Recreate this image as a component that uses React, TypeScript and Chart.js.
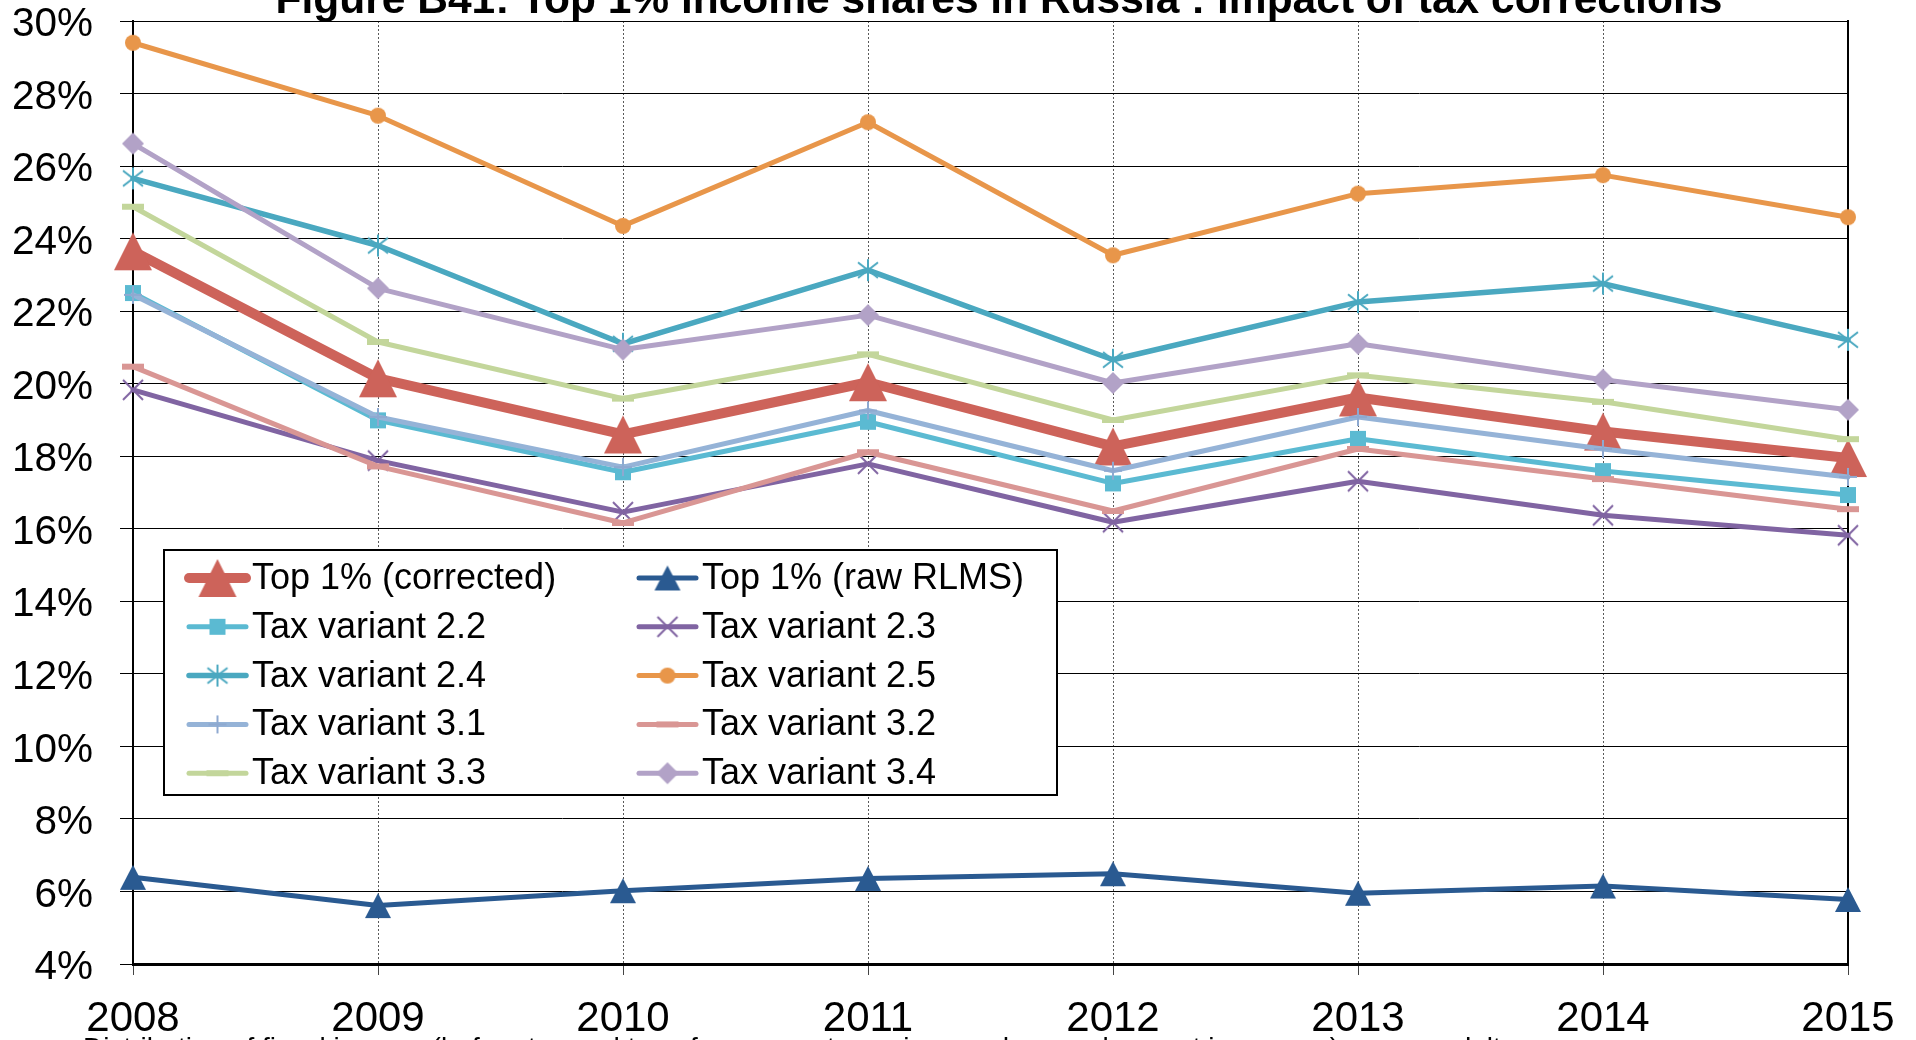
import React, { useEffect, useRef } from "react";
import { Chart, registerables } from "chart.js";

Chart.register(...registerables);

// ---------- data ----------
const years = ["2008", "2009", "2010", "2011", "2012", "2013", "2014", "2015"];
const top1Corrected = [23.65, 20.15, 18.6, 20.04, 18.27, 19.62, 18.68, 17.95];
const top1Raw = [6.39, 5.61, 6.02, 6.36, 6.49, 5.95, 6.15, 5.78];
const tax22 = [22.5, 18.99, 17.56, 18.95, 17.25, 18.48, 17.59, 16.93];
const tax23 = [19.83, 17.88, 16.46, 17.79, 16.18, 17.31, 16.37, 15.82];
const tax24 = [25.66, 23.81, 21.1, 23.13, 20.66, 22.25, 22.76, 21.21];
const tax25 = [29.4, 27.39, 24.35, 27.21, 23.54, 25.24, 25.75, 24.59];
const tax31 = [22.45, 19.08, 17.7, 19.26, 17.6, 19.08, 18.2, 17.43];
const tax32 = [20.47, 17.72, 16.16, 18.11, 16.49, 18.2, 17.37, 16.54];
const tax33 = [24.88, 21.15, 19.59, 20.81, 19.0, 20.23, 19.5, 18.47];
const tax34 = [26.62, 22.63, 20.94, 21.89, 20.02, 21.1, 20.11, 19.28];

const seriesLabels = [
  "Top 1% (corrected)",
  "Top 1% (raw RLMS)",
  "Tax variant 2.2",
  "Tax variant 2.3",
  "Tax variant 2.4",
  "Tax variant 2.5",
  "Tax variant 3.1",
  "Tax variant 3.2",
  "Tax variant 3.3",
  "Tax variant 3.4",
];

const yMin = 4;
const yMax = 30;
const yStep = 2;

const titleText = "Figure B41: Top 1% income shares in Russia : impact of tax corrections";
const noteText =
  "Distribution of fiscal income (before tax and transfers, except pensions and unemployment insurance) among adults";

const FONT = "'Liberation Sans', Arial, Helvetica, sans-serif";

// ---------- marker images ----------
function makeMarker(kind: string, color: string, w: number, h: number, lw = 2) {
  const pad = 2;
  const c = document.createElement("canvas");
  c.width = w + pad * 2;
  c.height = h + pad * 2;
  const ctx = c.getContext("2d")!;
  ctx.translate(pad, pad);
  ctx.fillStyle = color;
  ctx.strokeStyle = color;
  ctx.lineWidth = lw;
  ctx.lineCap = "butt";
  ctx.beginPath();
  switch (kind) {
    case "triangle":
      ctx.moveTo(w / 2, 0);
      ctx.lineTo(w, h);
      ctx.lineTo(0, h);
      ctx.closePath();
      ctx.fill();
      break;
    case "square":
    case "dash":
      ctx.fillRect(0, 0, w, h);
      break;
    case "circle":
      ctx.ellipse(w / 2, h / 2, w / 2, h / 2, 0, 0, Math.PI * 2);
      ctx.fill();
      break;
    case "diamond":
      ctx.moveTo(w / 2, 0);
      ctx.lineTo(w, h / 2);
      ctx.lineTo(w / 2, h);
      ctx.lineTo(0, h / 2);
      ctx.closePath();
      ctx.fill();
      break;
    case "x":
      ctx.moveTo(0, 0);
      ctx.lineTo(w, h);
      ctx.moveTo(w, 0);
      ctx.lineTo(0, h);
      ctx.stroke();
      break;
    case "asterisk":
      ctx.moveTo(0, h * 0.15);
      ctx.lineTo(w, h * 0.85);
      ctx.moveTo(w, h * 0.15);
      ctx.lineTo(0, h * 0.85);
      ctx.moveTo(w / 2, 0);
      ctx.lineTo(w / 2, h);
      ctx.stroke();
      break;
    case "plus":
      ctx.moveTo(w / 2, 0);
      ctx.lineTo(w / 2, h);
      ctx.moveTo(0, h / 2);
      ctx.lineTo(w, h / 2);
      ctx.stroke();
      break;
  }
  return c;
}

export default function App() {
  const ref = useRef<HTMLCanvasElement>(null);

  useEffect(() => {
    const canvas = ref.current;
    if (!canvas) return;

    const values = [top1Corrected, top1Raw, tax22, tax23, tax24, tax25, tax31, tax32, tax33, tax34];
    const colors = [
      "#CD635A",
      "#2A5A91",
      "#5BBAD2",
      "#8064A2",
      "#4AA8C0",
      "#E8964A",
      "#95B3D7",
      "#D99694",
      "#C3D69B",
      "#B2A2C7",
    ];
    const widths = [10, 5, 5, 5, 5.5, 5, 5, 5, 5, 5];
    const markers = [
      makeMarker("triangle", colors[0], 38, 38),
      makeMarker("triangle", colors[1], 26, 25),
      makeMarker("square", colors[2], 16, 16),
      makeMarker("x", colors[3], 20, 20, 2),
      makeMarker("asterisk", colors[4], 20, 22, 2),
      makeMarker("circle", colors[5], 16, 16),
      makeMarker("plus", "#8EA9D0", 18, 18, 2),
      makeMarker("dash", colors[7], 22, 6),
      makeMarker("dash", colors[8], 22, 6),
      makeMarker("diamond", colors[9], 22, 22),
    ];

    const datasets = values.map((data, i) => ({
      label: seriesLabels[i],
      data,
      borderColor: colors[i],
      backgroundColor: colors[i],
      borderWidth: widths[i],
      pointStyle: markers[i] as any,
      pointRadius: 10,
      pointHoverRadius: 10,
      borderJoinStyle: "round" as const,
      borderCapStyle: "round" as const,
      tension: 0,
      fill: false,
      order: values.length - i,
    }));

    const textPlugin = {
      id: "textPlugin",
      afterDraw(chart: any) {
        const ctx = chart.ctx;
        ctx.save();
        ctx.fillStyle = "#000";
        ctx.textAlign = "center";
        ctx.textBaseline = "alphabetic";
        ctx.font = `bold 42.5px ${FONT}`;
        ctx.fillText(titleText, 999, 13);
        ctx.textAlign = "left";
        ctx.font = `28px ${FONT}`;
        ctx.fillText(noteText, 83, 1057);
        ctx.restore();
      },
    };

    const legendPlugin = {
      id: "boxLegend",
      afterDraw(chart: any) {
        const ctx = chart.ctx;
        const left = 164;
        const top = 550;
        const right = 1057;
        const bottom = 795;
        ctx.save();
        ctx.fillStyle = "#fff";
        ctx.fillRect(left, top, right - left, bottom - top);
        ctx.strokeStyle = "#000";
        ctx.lineWidth = 2;
        ctx.strokeRect(left, top, right - left, bottom - top);
        const colX = [189, 639];
        const lineLen = 57;
        const rowY0 = 578;
        const rowH = 48.8;
        chart.data.datasets.forEach((ds: any, i: number) => {
          const col = i % 2;
          const row = Math.floor(i / 2);
          const x0 = colX[col];
          const y = rowY0 + row * rowH;
          ctx.strokeStyle = ds.borderColor;
          ctx.lineWidth = ds.borderWidth;
          ctx.lineCap = "round";
          ctx.beginPath();
          ctx.moveTo(x0, y);
          ctx.lineTo(x0 + lineLen, y);
          ctx.stroke();
          const img = ds.pointStyle;
          ctx.drawImage(img, x0 + lineLen / 2 - img.width / 2, y - img.height / 2);
          ctx.fillStyle = "#000";
          ctx.font = `36px ${FONT}`;
          ctx.textAlign = "left";
          ctx.textBaseline = "middle";
          ctx.fillText(ds.label, x0 + lineLen + 6, y + 1);
        });
        ctx.restore();
      },
    };

    const chart = new Chart(canvas, {
      type: "line",
      data: { labels: years, datasets },
      options: {
        animation: false,
        responsive: false,
        devicePixelRatio: 1,
        layout: { padding: { left: 0, right: 0, top: 21, bottom: 0 } },
        plugins: {
          legend: { display: false },
          title: { display: false },
          tooltip: { enabled: false },
        },
        scales: {
          x: {
            type: "category",
            offset: false,
            grid: {
              color: (c: any) => (c.index === 0 || c.index === years.length - 1 ? "rgba(0,0,0,0)" : "#5a5a5a"),
              lineWidth: 1,
              tickLength: 11,
              tickColor: "#444",
              tickWidth: 1,
            },
            border: { color: "#000", width: 3, dash: [2, 2] },
            ticks: {
              font: { family: FONT, size: 42 },
              color: "#000",
              padding: 19,
              maxRotation: 0,
              autoSkip: false,
            },
            afterFit: (s: any) => {
              s.height = 76;
              s.paddingLeft = 0;
              s.paddingRight = 0;
            },
          },
          y: {
            min: yMin,
            max: yMax,
            ticks: {
              stepSize: yStep,
              callback: (v: any) => `${v}%`,
              font: { family: FONT, size: 40.5 },
              color: "#000",
              padding: 27,
              labelOffset: 4,
            },
            grid: { color: "#000", lineWidth: 1, tickLength: 13, tickColor: "#000" },
            border: { color: "#000", width: 2 },
            afterFit: (s: any) => {
              s.width = 133;
              s.paddingTop = 0;
              s.paddingBottom = 0;
            },
          },
          y2: {
            position: "right",
            display: true,
            min: yMin,
            max: yMax,
            ticks: { display: false },
            grid: { drawOnChartArea: false, drawTicks: false },
            border: { color: "#000", width: 2 },
            afterFit: (s: any) => {
              s.width = 68;
              s.paddingTop = 0;
              s.paddingBottom = 0;
            },
          },
        },
      } as any,
      plugins: [textPlugin, legendPlugin],
    });

    return () => chart.destroy();
  }, []);

  return (
    <div
      style={{
        position: "fixed",
        left: 0,
        top: 0,
        width: 1916,
        height: 1040,
        overflow: "hidden",
        background: "#fff",
      }}
    >
      <canvas ref={ref} width={1916} height={1040} style={{ display: "block", width: 1916, height: 1040 }} />
    </div>
  );
}
